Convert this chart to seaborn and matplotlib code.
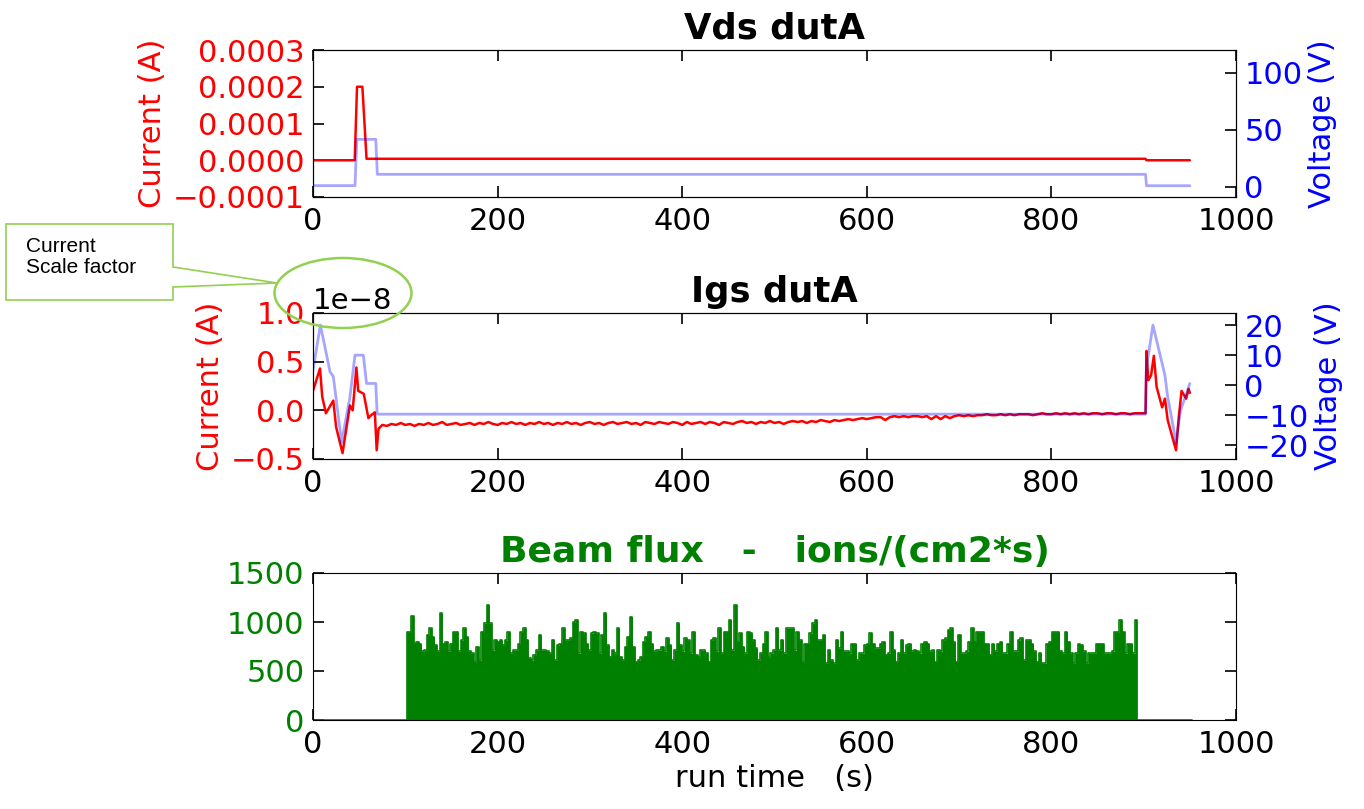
import matplotlib
matplotlib.use("Agg")
import matplotlib.pyplot as plt
import numpy as np
import seaborn as sns
from matplotlib.patches import Ellipse, Polygon
from matplotlib.ticker import FuncFormatter

# ---- Vds dutA : drain current (A) and drain voltage (V)
VDS_T = [0, 45.2, 47.7, 53.5, 58, 902, 903, 950]
VDS_I = [0, 0, 2.0e-4, 2.0e-4, 4e-6, 4e-6, 0, 0]
VDS_VT = [0, 45.5, 47.5, 68, 69.7, 902, 903, 950]
VDS_V = [1, 1, 41.6, 41.6, 10.9, 10.9, 0.9, 0.9]

# ---- Igs dutA : gate current (units of 1e-8 A) and gate voltage (V)
IGS_SCALE = 1e-8
IGS_HEAD_T = [0, 7.6, 10, 14, 22, 25, 32, 40, 43, 47, 49, 55, 60, 63, 67, 69, 71]
IGS_HEAD_I = [0.20, 0.43, 0.14, -0.03, 0.10, -0.17, -0.44, 0.05, 0.0, 0.44, 0.20,
              0.17, -0.08, -0.05, -0.02, -0.41, -0.19]
IGS_FLAT_T0 = 75
IGS_FLAT_DT = 5
IGS_FLAT_I = [
    -0.15, -0.16, -0.14, -0.15, -0.13, -0.15, -0.14, -0.16, -0.14, -0.15,
    -0.13, -0.15, -0.14, -0.12, -0.15, -0.14, -0.13, -0.15, -0.14, -0.13,
    -0.15, -0.13, -0.14, -0.12, -0.14, -0.15, -0.13, -0.14, -0.12, -0.14,
    -0.13, -0.15, -0.13, -0.14, -0.12, -0.14, -0.13, -0.15, -0.13, -0.14,
    -0.12, -0.14, -0.13, -0.15, -0.13, -0.12, -0.14, -0.13, -0.15, -0.13,
    -0.12, -0.14, -0.13, -0.12, -0.14, -0.13, -0.15, -0.12, -0.13, -0.14,
    -0.12, -0.13, -0.14, -0.12, -0.13, -0.15, -0.12, -0.14, -0.13, -0.12,
    -0.14, -0.12, -0.13, -0.15, -0.12, -0.13, -0.14, -0.12, -0.11, -0.13,
    -0.12, -0.14, -0.12, -0.13, -0.11, -0.13, -0.12, -0.14, -0.12, -0.11,
    -0.12, -0.11, -0.13, -0.11, -0.12, -0.10, -0.11, -0.12, -0.10, -0.11,
    -0.10, -0.09, -0.10, -0.09, -0.08, -0.09, -0.08, -0.07, -0.07, -0.10,
    -0.07, -0.06, -0.07, -0.06, -0.07, -0.06, -0.06, -0.07, -0.06, -0.09,
    -0.06, -0.09, -0.06, -0.08, -0.06, -0.05, -0.06, -0.05, -0.06, -0.05,
    -0.05, -0.04, -0.05, -0.05, -0.04, -0.05, -0.04, -0.05, -0.04, -0.04,
    -0.04, -0.05, -0.04, -0.03, -0.04, -0.04, -0.03, -0.04, -0.03, -0.04,
    -0.03, -0.04, -0.03, -0.04, -0.03, -0.03, -0.04, -0.03, -0.03, -0.04,
    -0.03, -0.03, -0.04, -0.03, -0.03, -0.03,
]
IGS_TAIL_T = [902, 903, 905, 908, 911, 914, 918, 920, 923, 926, 931, 935, 938, 941, 946, 948.6, 950]
IGS_TAIL_I = [-0.03, 0.61, 0.31, 0.36, 0.56, 0.24, 0.10, 0.03, 0.12, -0.10, -0.27,
              -0.41, -0.07, 0.20, 0.12, 0.22, 0.18]
VGS_T = [0, 8, 18.5, 22, 31, 40, 45.5, 54.5, 58, 68, 69.5, 902, 903, 910, 923, 926,
         930, 935, 940, 945, 950]
VGS_V = [5, 20, 4.4, 2.9, -19, -4, 10, 10, 0.6, 0.6, -9.6, -9.6, 6, 20, 3.3, -3.9,
         -10.5, -19, -8.3, -3.9, 0.6]

# ---- Beam flux (ions/(cm2*s)), beam on between FLUX_START and FLUX_END
FLUX_START = 102
FLUX_END = 892
RUN_END = 952
FLUX = [
    900, 900, 1060, 780, 800, 780, 700, 710, 870, 935, 850, 765, 700, 1090, 780, 800,
    700, 780, 900, 900, 700, 815, 935, 850, 700, 680, 595, 750, 610, 900, 985, 1175,
    985, 710, 815, 800, 815, 765, 815, 900, 680, 710, 710, 780, 900, 935, 815, 630,
    610, 665, 710, 870, 710, 710, 700, 680, 815, 610, 765, 780, 935, 815, 815, 835,
    1000, 1020, 680, 900, 885, 780, 710, 885, 900, 885, 680, 870, 1090, 765, 645, 710,
    680, 935, 645, 610, 750, 850, 1055, 750, 595, 610, 645, 800, 850,
    900, 780, 700, 710, 710, 750, 700, 835, 765, 610, 710, 985, 765, 700, 835, 815,
    680, 900, 665, 645, 710, 710, 680, 595, 815, 835, 700, 935, 680, 900, 900, 1020,
    710, 1175, 800, 885, 750, 680, 900, 885, 815, 730, 610, 680, 780, 900, 645, 680,
    710, 935, 710, 815, 680, 935, 935, 935, 710, 900, 815, 595, 780, 780, 885, 985,
    1020, 815, 815, 870, 580, 710, 610, 580, 815, 730, 900, 700, 700, 680, 780, 780,
    610, 680, 680, 765, 780, 885, 780, 730, 730, 780, 800, 665, 680,
    900, 710, 595, 680, 815, 680, 765, 780, 700, 710, 700, 680, 780, 800, 780, 700,
    710, 595, 710, 700, 815, 835, 920, 935, 800, 595, 870, 680, 680, 700, 800, 935,
    800, 900, 900, 900, 780, 780, 665, 780, 700, 780, 800, 680, 680, 780, 900, 700,
    700, 815, 835, 610, 815, 815, 780, 700, 595, 680, 580, 580, 780, 800, 900, 900,
    900, 700, 680, 900, 800, 680, 580, 680, 780, 765, 700, 580, 680, 680, 680, 780,
    780, 780, 680, 680, 680, 700, 900, 900, 1020, 900, 680, 780, 780, 680, 1020,
]

X_TICKS = [0, 200, 400, 600, 800, 1000]

RED = "#ff0000"
BLUE = "#0000ff"
GREEN = "#008000"
CALLOUT = "#92d050"

sns.set_style("white", {
    "axes.edgecolor": "black",
    "axes.linewidth": 1.8,
    "axes.labelcolor": "black",
    "text.color": "black",
    "xtick.color": "black",
    "ytick.color": "black",
    "xtick.direction": "in",
    "ytick.direction": "in",
    "xtick.top": True,
    "xtick.bottom": True,
    "ytick.left": True,
    "ytick.right": False,
})
plt.rcParams.update({
    "font.family": ["DejaVu Sans"],
    "font.size": 22,
    "xtick.labelsize": 22,
    "ytick.labelsize": 22,
    "xtick.major.size": 8,
    "ytick.major.size": 8,
    "xtick.major.width": 1.2,
    "ytick.major.width": 1.2,
    "xtick.major.pad": 7,
    "ytick.major.pad": 6,
})

W, H = 1364, 809
fig = plt.figure(figsize=(W / 100, H / 100), dpi=100)


def frac(left, top, right, bottom):
    return [left / W, 1 - bottom / H, (right - left) / W, (bottom - top) / H]


ax_vds = fig.add_axes(frac(313, 50, 1236, 197))
ax_igs = fig.add_axes(frac(313, 313, 1236, 459))
ax_flux = fig.add_axes(frac(313, 573, 1236, 720))

line_kw = dict(estimator=None, sort=False, legend=False)

# ---- top panel
sns.lineplot(x=VDS_T, y=VDS_I, ax=ax_vds, color=RED, lw=1.8, **line_kw)
ax_vds_r = ax_vds.twinx()
sns.lineplot(x=VDS_VT, y=VDS_V, ax=ax_vds_r, color=BLUE, alpha=0.35, lw=2, **line_kw)
ax_vds.set_ylim(-1e-4, 3e-4)
ax_vds.set_yticks([-1e-4, 0, 1e-4, 2e-4, 3e-4])
ax_vds.yaxis.set_major_formatter(FuncFormatter(lambda v, _: f"{v:.4f}".replace("-", "\u2212")))
ax_vds_r.set_ylim(-9, 120)
ax_vds_r.set_yticks([0, 50, 100])
ax_vds.set_title("Vds dutA", fontsize=25.5, fontweight="bold", pad=8)

# ---- middle panel
igs_t = IGS_HEAD_T + [IGS_FLAT_T0 + IGS_FLAT_DT * k for k in range(len(IGS_FLAT_I))] + IGS_TAIL_T
igs_i = np.array(IGS_HEAD_I + IGS_FLAT_I + IGS_TAIL_I) * IGS_SCALE
sns.lineplot(x=igs_t, y=igs_i, ax=ax_igs, color=RED, lw=1.8, **line_kw)
ax_igs_r = ax_igs.twinx()
sns.lineplot(x=VGS_T, y=VGS_V, ax=ax_igs_r, color=BLUE, alpha=0.35, lw=2, **line_kw)
ax_igs.set_ylim(-0.5e-8, 1.0e-8)
ax_igs.set_yticks([-0.5e-8, 0, 0.5e-8, 1.0e-8])
ax_igs_r.set_ylim(-24.5, 24)
ax_igs_r.set_yticks([-20, -10, 0, 10, 20])
ax_igs.set_title("Igs dutA", fontsize=25.5, fontweight="bold", pad=8)

for ax, ax_r in [(ax_vds, ax_vds_r), (ax_igs, ax_igs_r)]:
    ax.set_ylabel("Current (A)", color=RED, fontsize=22)
    ax.tick_params(axis="y", labelcolor=RED, right=False)
    ax_r.set_ylabel("Voltage (V)", color=BLUE, fontsize=22)
    ax_r.tick_params(axis="y", labelcolor=BLUE, direction="in", right=True, left=False)
    ax_r.set_xlabel("")
ax_igs.yaxis.get_offset_text().set_color("black")
ax_igs.yaxis.get_offset_text().set_fontsize(21)

# ---- bottom panel
flux_t = np.linspace(FLUX_START, FLUX_END, len(FLUX))
full_t = np.concatenate([[0, FLUX_START - 1], flux_t, [FLUX_END + 1, RUN_END]])
full_v = np.concatenate([[0, 0], FLUX, [0, 0]])
ax_flux.fill_between(full_t, 0, full_v, step="mid", color=GREEN, lw=0)
sns.lineplot(x=full_t, y=full_v, ax=ax_flux, color=GREEN, lw=1.2, drawstyle="steps-mid", **line_kw)
ax_flux.set_ylim(0, 1500)
ax_flux.set_yticks([0, 500, 1000, 1500])
ax_flux.tick_params(axis="y", labelcolor=GREEN, right=True)
ax_flux.set_ylabel("")
ax_flux.set_title("Beam flux   -   ions/(cm2*s)", color=GREEN, fontsize=26,
                  fontweight="bold", pad=8)
ax_flux.set_xlabel("run time   (s)", fontsize=22)

for ax in (ax_vds, ax_igs, ax_flux):
    ax.set_xlim(0, 1000)
    ax.set_xticks(X_TICKS)
    ax.tick_params(axis="x", top=True, bottom=True)

# ---- callout pointing at the current scale factor
ov = fig.add_axes([0, 0, 1, 1], zorder=10)
ov.set_xlim(0, W)
ov.set_ylim(H, 0)
ov.axis("off")
ov.patch.set_alpha(0)
ov.add_patch(Polygon([(6, 224), (173, 224), (173, 267), (277, 283), (173, 287),
                      (173, 300), (6, 300)], closed=True, facecolor="white",
                     edgecolor=CALLOUT, lw=1.2))
ov.text(26, 237, "Current\nScale factor", fontsize=15, family="Liberation Sans",
        va="top", ha="left", linespacing=1.1)
ov.add_patch(Ellipse((343, 293), 137, 70, facecolor="none", edgecolor=CALLOUT, lw=1.8))

fig.savefig("out.png", dpi=100)
